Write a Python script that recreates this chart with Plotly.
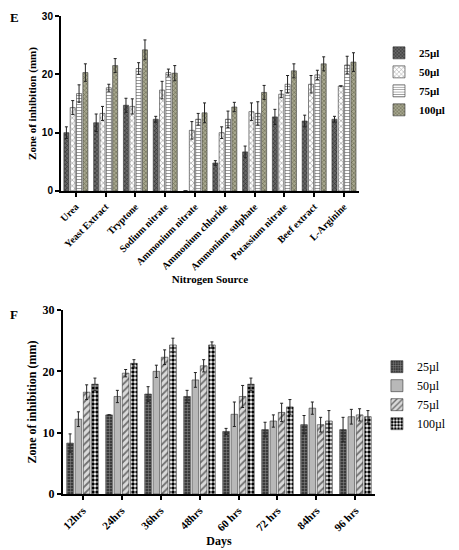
import plotly.graph_objects as go

# Panel E - nitrogen sources
sources = ["Urea", "Yeast Extract", "Tryptone", "Sodium nitrate", "Ammonium nitrate",
           "Ammonium chloride", "Ammonium sulphate", "Potassium nitrate", "Beef extract", "L-Arginine"]
e_25 = [10.0, 11.7, 14.7, 12.3, 0.0, 4.8, 6.7, 12.7, 12.0, 12.3]
e_50 = [14.3, 13.3, 14.5, 17.3, 10.4, 10.0, 13.6, 16.6, 18.3, 18.0]
e_75 = [16.7, 17.7, 21.0, 20.3, 12.3, 12.3, 13.3, 18.3, 19.9, 21.6]
e_100 = [20.3, 21.5, 24.2, 20.2, 13.4, 14.4, 16.9, 20.6, 21.8, 22.1]
e_25_err = [1.0, 1.5, 1.2, 0.5, 0.0, 0.4, 1.0, 1.3, 1.0, 0.5]
e_50_err = [1.2, 1.2, 1.3, 1.5, 1.5, 1.0, 1.5, 0.6, 1.5, 0.0]
e_75_err = [1.5, 0.6, 1.0, 0.6, 1.0, 1.4, 2.0, 1.5, 0.8, 1.5]
e_100_err = [1.5, 1.2, 1.7, 1.3, 1.7, 0.8, 1.2, 1.2, 1.2, 1.6]

# Panel F - incubation time
days = ["12hrs", "24hrs", "36hrs", "48hrs", "60 hrs", "72 hrs", "84hrs", "96 hrs"]
f_25 = [8.3, 12.9, 16.3, 15.9, 10.2, 10.5, 11.3, 10.5]
f_50 = [12.2, 15.9, 20.0, 18.6, 13.0, 11.9, 14.0, 12.6]
f_75 = [16.6, 19.7, 22.3, 20.9, 15.9, 13.3, 11.3, 12.9]
f_100 = [17.9, 21.3, 24.3, 24.3, 17.9, 14.2, 11.9, 12.6]
f_25_err = [1.5, 0.0, 1.2, 1.0, 0.5, 1.2, 1.5, 2.0]
f_50_err = [1.2, 1.0, 1.0, 1.2, 2.0, 1.0, 1.0, 1.2]
f_75_err = [1.2, 0.6, 1.2, 1.0, 1.8, 1.5, 1.2, 1.0]
f_100_err = [1.0, 0.6, 1.1, 0.5, 1.0, 1.2, 1.7, 1.0]

labels = ["25µl", "50µl", "75µl", "100µl"]

serif = "Liberation Serif"

fig = go.Figure()

e_styles = [
    dict(bgcolor="#686868", fgcolor="#2a2a2a", shape="x", size=3, solidity=0.35),
    dict(bgcolor="white", fgcolor="#8a8a8a", shape="x", size=4, solidity=0.25),
    dict(bgcolor="white", fgcolor="#909090", shape="-", size=3, solidity=0.3),
    dict(bgcolor="#a8a890", fgcolor="#66664e", shape="x", size=3, solidity=0.35),
]
for name, vals, errs, st in zip(labels, [e_25, e_50, e_75, e_100],
                                [e_25_err, e_50_err, e_75_err, e_100_err], e_styles):
    fig.add_trace(go.Bar(
        x=sources, y=vals, name=name, xaxis="x", yaxis="y", legend="legend",
        marker=dict(color=st["bgcolor"], line=dict(color="#333333", width=0.6),
                    pattern=dict(shape=st["shape"], fgcolor=st["fgcolor"], bgcolor=st["bgcolor"],
                                 size=st["size"], solidity=st["solidity"], fillmode="replace")),
        error_y=dict(type="data", array=errs, color="#222222", thickness=1, width=1.5),
    ))

f_styles = [
    dict(bgcolor="#3a3a3a", fgcolor="#909090", shape="+", size=3, solidity=0.3),
    dict(bgcolor="#cccccc", fgcolor="#8a8a8a", shape="-", size=2, solidity=0.3),
    dict(bgcolor="#dadada", fgcolor="#707070", shape="/", size=5, solidity=0.35),
    dict(bgcolor="white", fgcolor="black", shape=".", size=4, solidity=0.6),
]
for name, vals, errs, st in zip(labels, [f_25, f_50, f_75, f_100],
                                [f_25_err, f_50_err, f_75_err, f_100_err], f_styles):
    fig.add_trace(go.Bar(
        x=days, y=vals, name=name, xaxis="x2", yaxis="y2", legend="legend2",
        marker=dict(color=st["bgcolor"], line=dict(color="#333333", width=0.6),
                    pattern=dict(shape=st["shape"], fgcolor=st["fgcolor"], bgcolor=st["bgcolor"],
                                 size=st["size"], solidity=st["solidity"], fillmode="replace")),
        error_y=dict(type="data", array=errs, color="#222222", thickness=1, width=1.5),
    ))

axis_common = dict(showline=True, linecolor="black", linewidth=2, ticks="outside",
                   tickcolor="black", tickwidth=1.5, ticklen=4, showgrid=False, zeroline=False,
                   automargin=False)

# page body has an 8px margin, so the figure is sized to the visible area
fig.update_layout(
    width=451, height=542,
    margin=dict(l=0, r=0, t=0, b=0, autoexpand=False),
    paper_bgcolor="white", plot_bgcolor="white",
    barmode="group", bargap=0.15, bargroupgap=0.2,
    font=dict(family=serif, color="black"),
    xaxis=dict(domain=[0.1175, 0.778], anchor="y", range=[-0.5, 9.5], tickangle=-45,
               tickfont=dict(family=serif, size=10, weight="bold"),
               title=dict(text="Nitrogen Source", font=dict(family=serif, size=11, weight="bold"), standoff=4),
               **axis_common),
    yaxis=dict(domain=[0.6624, 0.9852], anchor="x", range=[0, 30], tickvals=[0, 10, 20, 30],
               tickfont=dict(family="Liberation Sans", size=10, weight="bold"),
               title=dict(text="Zone of inhibition (mm)", font=dict(family=serif, size=11, weight="bold"), standoff=3),
               **axis_common),
    xaxis2=dict(domain=[0.122, 0.8137], anchor="y2", range=[-0.5, 7.5], tickangle=-45,
                tickfont=dict(family=serif, size=11, weight="bold"),
                title=dict(text="Days", font=dict(family=serif, size=12, weight="bold"), standoff=4),
                **axis_common),
    yaxis2=dict(domain=[0.1033, 0.4428], anchor="x2", range=[0, 30], tickvals=[0, 10, 20, 30],
                tickfont=dict(family=serif, size=12, weight="bold"),
                title=dict(text="Zone of inhibition (mm)", font=dict(family=serif, size=12, weight="bold"), standoff=3),
                **axis_common),
    legend=dict(x=0.8226, y=0.944, xanchor="left", yanchor="top", bgcolor="rgba(0,0,0,0)",
                font=dict(family=serif, size=11, weight="bold"), tracegroupgap=0),
    legend2=dict(x=0.818, y=0.365, xanchor="left", yanchor="top", bgcolor="rgba(0,0,0,0)",
                 font=dict(family=serif, size=12), tracegroupgap=0),
    annotations=[
        dict(text="E", x=0, y=1, xref="paper", yref="paper", showarrow=False,
             xanchor="left", yanchor="top", font=dict(family=serif, size=13, weight="bold")),
        dict(text="F", x=0, y=0.4336, xref="paper", yref="paper", showarrow=False,
             xanchor="left", yanchor="middle", font=dict(family=serif, size=13, weight="bold")),
    ],
)

fig.write_html("out.html")
